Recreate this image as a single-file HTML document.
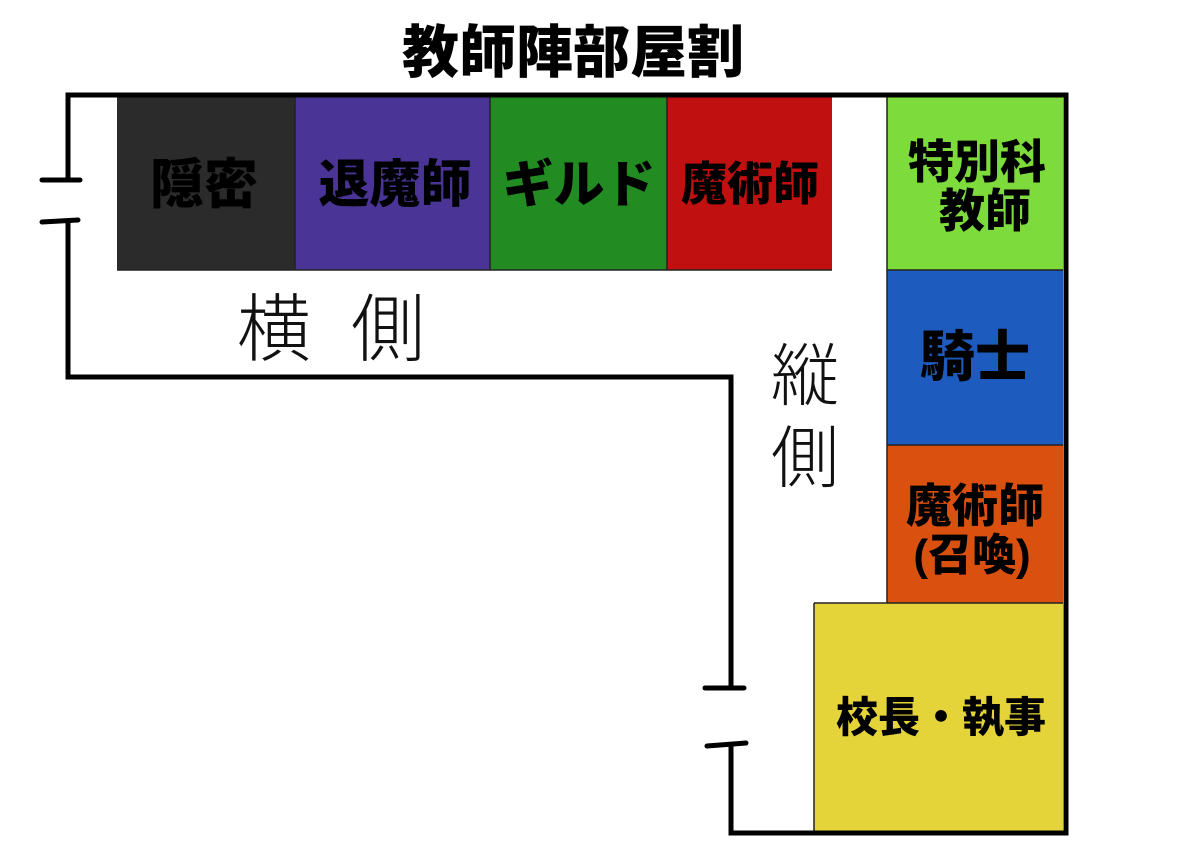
<!DOCTYPE html>
<html><head><meta charset="utf-8"><style>
body{margin:0;background:#fff;}
svg{display:block}
text{font-family:"Liberation Sans","Noto Sans CJK JP",sans-serif;}
.b{font-weight:900;fill:#000;}
</style></head><body>
<svg width="1200" height="850" viewBox="0 0 1200 850">
<rect width="1200" height="850" fill="#fff"/>
<text x="573" y="72" text-anchor="middle" font-size="57" font-weight="900" fill="#000">教師陣部屋割</text>
<rect x="117" y="97" width="178" height="173" fill="#2b2b2b"/>
<rect x="295" y="97" width="195" height="173" fill="#4a3597"/>
<rect x="490" y="97" width="177" height="173" fill="#228b22"/>
<rect x="667" y="97" width="165" height="173" fill="#c01010"/>
<rect x="887" y="97" width="176" height="173" fill="#7ddc3c"/>
<rect x="887" y="270" width="176" height="175" fill="#1e5bbf"/>
<rect x="887" y="445" width="176" height="158" fill="#d9500f"/>
<rect x="814" y="603" width="249" height="230" fill="#e4d43a"/>
<g stroke="#222" stroke-width="1.5" fill="none">
<line x1="117" y1="270" x2="832" y2="270"/>
<line x1="295" y1="97" x2="295" y2="270"/>
<line x1="490" y1="97" x2="490" y2="270"/>
<line x1="667" y1="97" x2="667" y2="270"/>
<line x1="887" y1="97" x2="887" y2="603"/>
<line x1="887" y1="270" x2="1063" y2="270"/>
<line x1="887" y1="445" x2="1063" y2="445"/>
<line x1="814" y1="603" x2="1063" y2="603"/>
<line x1="814" y1="603" x2="814" y2="833"/>
</g>
<g stroke="#000" stroke-width="5" fill="none" stroke-linecap="round">
<polyline points="68,180 68,95 1066,95 1066,833 731,833 731,745"/>
<polyline points="68,222 68,377 731,377 731,688"/>
<line x1="42" y1="180" x2="80" y2="180"/>
<line x1="42" y1="222" x2="78" y2="220"/>
<line x1="705" y1="688" x2="744" y2="688"/>
<line x1="707" y1="746" x2="746" y2="743"/>
</g>
<text class="b" x="204" y="203" text-anchor="middle" font-size="54">隠密</text>
<text class="b" x="395" y="202" text-anchor="middle" font-size="51">退魔師</text>
<text class="b" x="579" y="202" text-anchor="middle" font-size="51">ギルド</text>
<text class="b" x="750" y="200" text-anchor="middle" font-size="46">魔術師</text>
<text class="b" x="977" y="178" text-anchor="middle" font-size="46">特別科</text>
<text class="b" x="985" y="227" text-anchor="middle" font-size="46">教師</text>
<text class="b" x="975" y="376" text-anchor="middle" font-size="55">騎士</text>
<text class="b" x="975" y="522" text-anchor="middle" font-size="46">魔術師</text>
<text class="b" x="972" y="570" text-anchor="middle" font-size="44">(召喚)</text>
<text class="b" x="941" y="732" text-anchor="middle" font-size="42">校長・執事</text>
<text x="237" y="355" font-size="74" font-weight="200" fill="#111" letter-spacing="40">横側</text>
<text x="805" y="400" text-anchor="middle" font-size="68" font-weight="200" fill="#111">縦</text>
<text x="805" y="482" text-anchor="middle" font-size="68" font-weight="200" fill="#111">側</text>
</svg>
</body></html>
